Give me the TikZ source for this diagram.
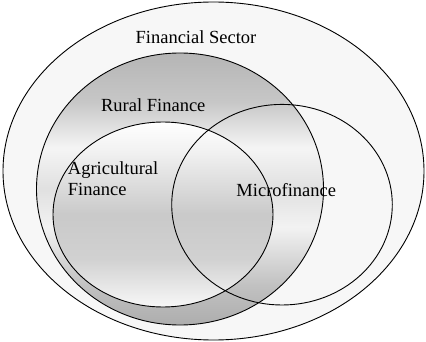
\documentclass[tikz,border=0pt]{standalone}
\usepackage{fontspec}
\setmainfont{Liberation Serif}
\pgfdeclareverticalshading{ruralshade}{100bp}{rgb(0bp)=(0.68,0.68,0.68); rgb(25bp)=(0.68,0.68,0.68); rgb(32.5bp)=(0.76,0.76,0.76); rgb(43bp)=(0.95,0.95,0.95); rgb(50bp)=(0.88,0.88,0.88); rgb(57.5bp)=(0.96,0.96,0.96); rgb(66bp)=(0.78,0.78,0.78); rgb(75bp)=(0.71,0.71,0.71); rgb(100bp)=(0.71,0.71,0.71)}
\pgfdeclareverticalshading{agrishade}{100bp}{rgb(0bp)=(0.97,0.97,0.97); rgb(25bp)=(0.97,0.97,0.97); rgb(38bp)=(0.82,0.82,0.82); rgb(50bp)=(0.79,0.79,0.79); rgb(67.5bp)=(0.95,0.95,0.95); rgb(75bp)=(1,1,1); rgb(100bp)=(1,1,1)}
\definecolor{outerfill}{gray}{0.97}
\tikzset{
  setline/.style={draw=black, line width=0.9pt},
  lbl/.style={font=\fontsize{18.5}{21.3}\selectfont, inner sep=0pt, text=black}
}
\begin{document}
\begin{tikzpicture}[x=1pt,y=-1pt]
\useasboundingbox (0,0) rectangle (426,342);
\fill[white] (0,0) rectangle (426,342);
\draw[setline, fill=outerfill] (213.5,171) ellipse [x radius=210.5, y radius=169];
\draw[setline, shading=ruralshade] (180,189) ellipse [x radius=143.5, y radius=136];
\draw[setline, shading=agrishade] (163,214.5) ellipse [x radius=110, y radius=92.5];
\draw[setline] (282,204.7) ellipse [x radius=110.3, y radius=100.3];
\node[lbl, anchor=base] (fs) at (196,44) {Financial Sector};
\node[lbl, anchor=base] (rf) at (153.3,112) {Rural Finance};
\node[lbl, anchor=base west, align=left] (af) at (67.7,196) {Agricultural\\Finance};
\node[lbl, anchor=base] (mf) at (286.3,196.7) {Microfinance};
\end{tikzpicture}
\end{document}
